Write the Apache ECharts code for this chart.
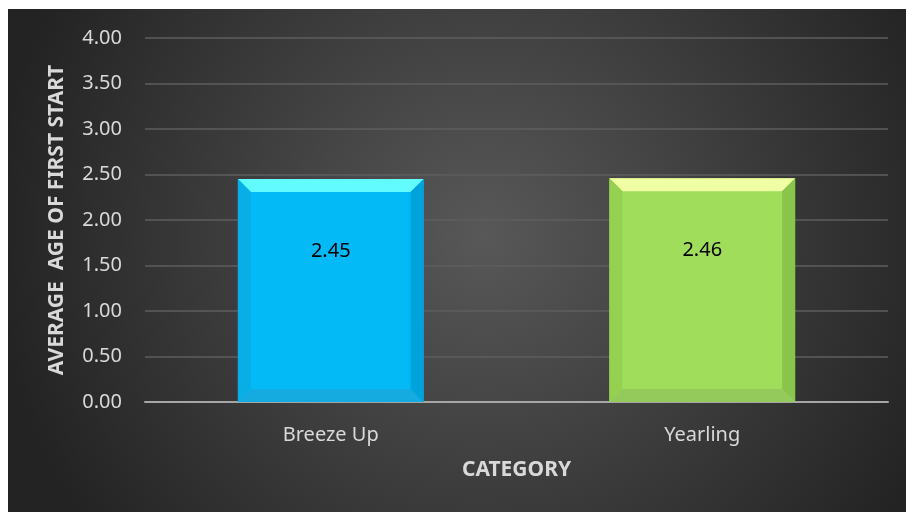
<!DOCTYPE html>
<html>
<head>
<meta charset="utf-8">
<script src="https://cdn.jsdelivr.net/npm/echarts@6/dist/echarts.min.js"></script>
<style>
  html, body { margin: 0; padding: 0; background: #ffffff; }
  #chart { position: absolute; left: 8px; top: 9px; width: 898px; height: 503px; }
</style>
</head>
<body>
<div id="chart"></div>
<script>
// Average age at first start, by sale category
const categories = ['Breeze Up', 'Yearling'];
const values = [2.45, 2.46];
const yMin = 0, yMax = 4, yStep = 0.5;

// Bevelled bar colours: face, top, left, right, bottom
const bevelColours = [
  { face: '#03b9f6', top: '#62fbff', left: '#0aaee6', right: '#00a3dc', bottom: '#15abe0' },
  { face: '#a0dd5a', top: '#f1ffa4', left: '#94d150', right: '#88c54a', bottom: '#94c95c' }
];
const BEVEL = 13;

const chart = echarts.init(document.getElementById('chart'));
const font = '"Noto Sans", "Open Sans", sans-serif';

function renderBevelBar(params, api) {
  const idx = api.value(0);
  const val = api.value(1);
  const topPt = api.coord([idx, val]);
  const basePt = api.coord([idx, 0]);
  const w = api.size([1, 0])[0] * 0.5;
  const x0 = topPt[0] - w / 2, x1 = topPt[0] + w / 2;
  const y0 = topPt[1], y1 = basePt[1];
  const b = BEVEL;
  const c = bevelColours[params.dataIndex % bevelColours.length];
  const poly = (pts, fill) => ({ type: 'polygon', shape: { points: pts }, style: { fill: fill }, silent: true });
  return {
    type: 'group',
    children: [
      poly([[x0, y0], [x1, y0], [x1, y1], [x0, y1]], c.face),
      poly([[x0, y0], [x1, y0], [x1 - b, y0 + b], [x0 + b, y0 + b]], c.top),
      poly([[x0, y0], [x0 + b, y0 + b], [x0 + b, y1 - b], [x0, y1]], c.left),
      poly([[x1, y0], [x1, y1], [x1 - b, y1 - b], [x1 - b, y0 + b]], c.right),
      poly([[x0, y1], [x0 + b, y1 - b], [x1 - b, y1 - b], [x1, y1]], c.bottom),
      {
        type: 'text',
        style: {
          x: topPt[0], y: y0 + 72,
          text: val.toFixed(2),
          fill: '#000000',
          font: '20px ' + font,
          align: 'center', verticalAlign: 'middle'
        },
        silent: true
      }
    ]
  };
}

chart.setOption({
  animation: false,
  backgroundColor: {
    type: 'radial', x: 0.53, y: 0.45, r: 0.98,
    colorStops: [
      { offset: 0, color: '#585858' },
      { offset: 1, color: '#232323' }
    ]
  },
  grid: { left: 137, right: 18, top: 29, bottom: 110 },
  xAxis: {
    type: 'category',
    data: categories,
    name: 'CATEGORY',
    nameLocation: 'middle',
    nameGap: 58,
    nameTextStyle: { color: '#d9d9d9', fontSize: 21, fontWeight: 'bold', fontFamily: font },
    axisLine: { lineStyle: { color: '#a6a6a6', width: 2 } },
    axisTick: { show: false },
    axisLabel: { color: '#d9d9d9', fontSize: 20, fontFamily: font, margin: 23 }
  },
  yAxis: {
    type: 'value',
    min: yMin, max: yMax, interval: yStep,
    name: 'AVERAGE  AGE OF FIRST START',
    nameLocation: 'middle',
    nameGap: 77,
    nameTextStyle: { color: '#d9d9d9', fontSize: 21, fontWeight: 'bold', fontFamily: font },
    axisLine: { show: false },
    axisTick: { show: false },
    axisLabel: { color: '#d9d9d9', fontSize: 20, fontFamily: font, margin: 23,
      formatter: v => v.toFixed(2) },
    splitLine: { lineStyle: { color: '#5e5e5e', width: 1.5 } }
  },
  series: [{
    type: 'custom',
    renderItem: renderBevelBar,
    data: categories.map((c, i) => [i, values[i]]),
    encode: { x: 0, y: 1 },
    z: 3
  }]
});
</script>
</body>
</html>
